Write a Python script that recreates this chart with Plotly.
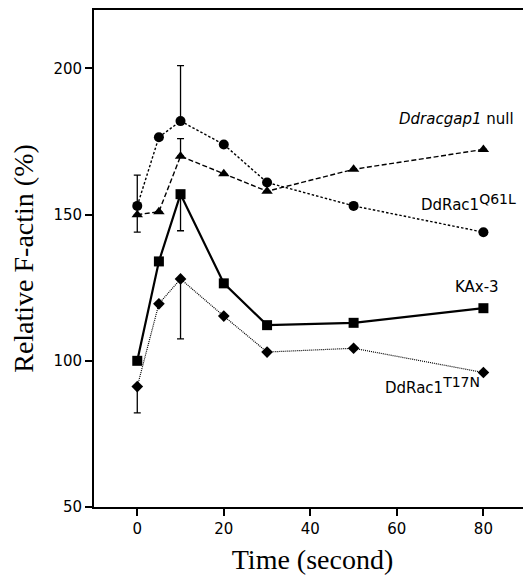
import plotly.graph_objects as go

time_s = [0, 5, 10, 20, 30, 50, 80]

q61l = [153, 176.5, 182, 174, 161, 153, 144]
q61l_err_up = [10.5, 0, 19, 0, 0, 0, 0]
q61l_err_dn = [0, 0, 0, 0, 0, 0, 0]

gap_null = [150, 151, 170, 164, 158, 165.5, 172.3]
gap_err_up = [0, 0, 6, 0, 0, 0, 0]
gap_err_dn = [6, 0, 0, 0, 0, 0, 0]

kax3 = [100, 134, 157, 126.5, 112.2, 113, 118]
kax3_err_up = [0, 0, 0, 0, 0, 0, 0]
kax3_err_dn = [0, 0, 12.5, 0, 0, 0, 0]

t17n = [91.2, 119.5, 128, 115.3, 103, 104.3, 96]
t17n_err_up = [0, 0, 0, 0, 0, 0, 0]
t17n_err_dn = [9, 0, 20.5, 0, 0, 0, 0]

x_ticks = [0, 20, 40, 60, 80]
y_ticks = [50, 100, 150, 200]

series = [
    ("Ddracgap1 null", gap_null, gap_err_up, gap_err_dn, "triangle-up", 10, "5px,2.5px", 1.4),
    ("DdRac1 Q61L", q61l, q61l_err_up, q61l_err_dn, "circle", 10, "2.5px,2px", 1.4),
    ("KAx-3", kax3, kax3_err_up, kax3_err_dn, "square", 10, "solid", 2.2),
    ("DdRac1 T17N", t17n, t17n_err_up, t17n_err_dn, "diamond", 9, "1px,1px", 1.2),
]

fig = go.Figure()
for name, ys, eu, ed, sym, size, dash, lw in series:
    fig.add_trace(go.Scatter(
        x=time_s, y=ys, name=name, mode="lines+markers",
        line=dict(color="black", width=lw, dash=dash),
        marker=dict(symbol=sym, size=size, color="black"),
        error_y=dict(type="data", symmetric=False, array=eu, arrayminus=ed,
                     color="black", thickness=1.3, width=3.5),
        showlegend=False,
    ))

lab_font = dict(family="DejaVu Sans, Arial", size=15, color="black")
sup = "<sup><span style='font-size:14px'>{}</span></sup>"
fig.add_annotation(x=73.7, y=182.6, text="<i>Ddracgap1</i> null", showarrow=False,
                   font=lab_font, xanchor="center", yanchor="middle")
fig.add_annotation(x=65, y=154, text="DdRac1" + sup.format("Q61L"), showarrow=False,
                   font=lab_font, xanchor="left", yanchor="middle")
fig.add_annotation(x=78.5, y=125.4, text="KAx-3", showarrow=False,
                   font=lab_font, xanchor="center", yanchor="middle")
fig.add_annotation(x=56.8, y=91.5, text="DdRac1" + sup.format("T17N"), showarrow=False,
                   font=lab_font, xanchor="left", yanchor="middle")

tick_font = dict(family="DejaVu Sans, Arial", size=15, color="black")
title_font = dict(family="Liberation Serif, Times New Roman", size=28, color="black")

fig.update_xaxes(range=[-10, 91], tickvals=x_ticks, ticks="outside", ticklen=7,
                 tickwidth=1.5, tickcolor="black", showline=True, linecolor="black",
                 linewidth=1.8, mirror=True, showgrid=False, zeroline=False,
                 tickfont=tick_font,
                 title=dict(text="Time (second)", font=title_font, standoff=12))
fig.update_yaxes(range=[50, 220], tickvals=y_ticks, ticks="outside", ticklen=7,
                 tickwidth=1.5, tickcolor="black", showline=True, linecolor="black",
                 linewidth=1.8, mirror=False, showgrid=False, zeroline=False,
                 tickfont=tick_font,
                 title=dict(text="Relative F-actin (%)", font=title_font, standoff=19))

fig.update_layout(
    width=531, height=577,
    margin=dict(l=86, r=8, t=0, b=78),
    paper_bgcolor="white", plot_bgcolor="white",
)

fig.write_html("out.html")
